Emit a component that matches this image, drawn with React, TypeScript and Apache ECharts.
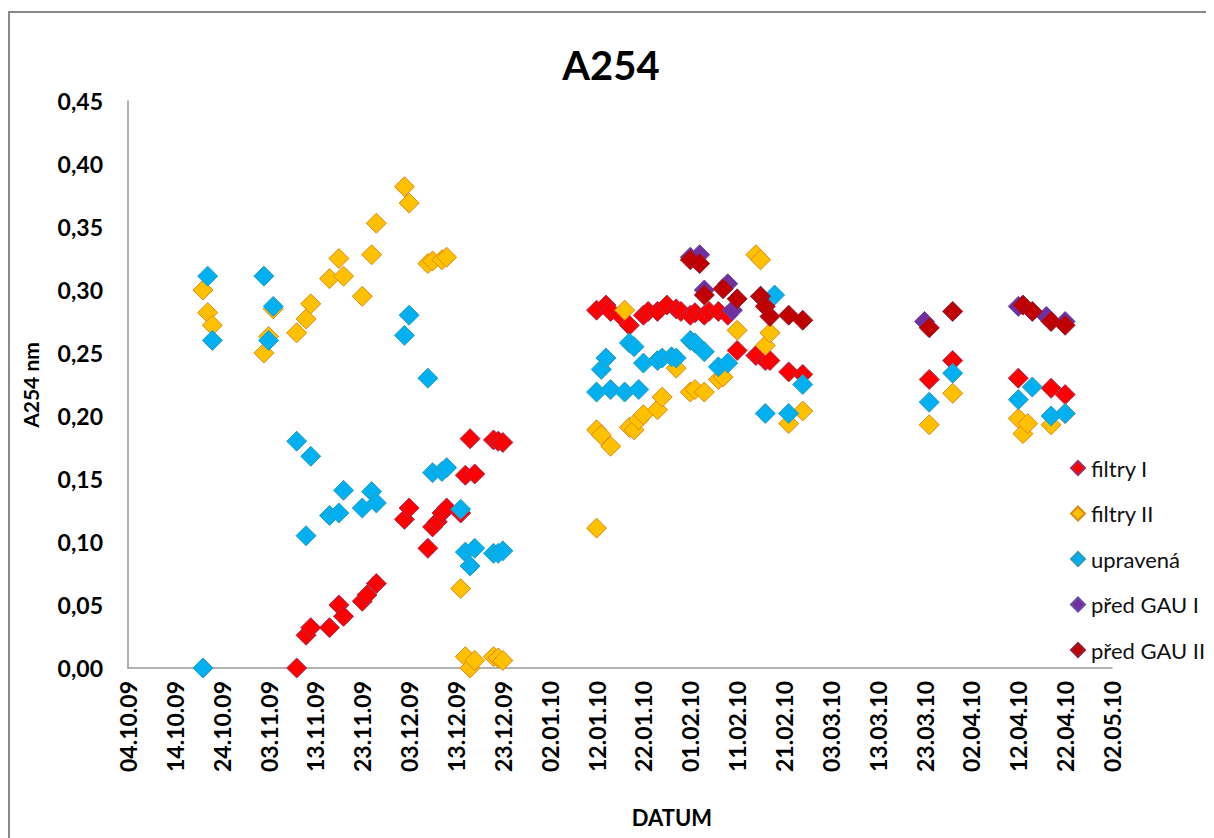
import React, { useEffect, useRef } from "react";
import * as echarts from "echarts";

const xTickLabels = [
  "04.10.09", "14.10.09", "24.10.09", "03.11.09", "13.11.09", "23.11.09",
  "03.12.09", "13.12.09", "23.12.09", "02.01.10", "12.01.10", "22.01.10",
  "01.02.10", "11.02.10", "21.02.10", "03.03.10", "13.03.10", "23.03.10",
  "02.04.10", "12.04.10", "22.04.10", "02.05.10",
];

const seriesNames = ["filtry I", "filtry II", "upravená", "před GAU I", "před GAU II"];

const filtryIDates = [
  "09.11.09", "11.11.09", "12.11.09", "16.11.09", "18.11.09", "19.11.09", "23.11.09", "24.11.09", "26.11.09",
  "02.12.09", "03.12.09", "07.12.09", "08.12.09", "09.12.09", "10.12.09", "11.12.09", "14.12.09", "15.12.09",
  "16.12.09", "17.12.09", "21.12.09", "22.12.09", "23.12.09",
  "12.01.10", "14.01.10", "15.01.10", "17.01.10", "19.01.10", "22.01.10", "23.01.10", "25.01.10", "27.01.10",
  "29.01.10", "30.01.10", "01.02.10", "02.02.10", "04.02.10", "05.02.10", "07.02.10", "09.02.10", "11.02.10",
  "15.02.10", "17.02.10", "18.02.10", "22.02.10", "25.02.10",
  "24.03.10", "29.03.10", "12.04.10", "19.04.10", "22.04.10",
];
const filtryIValues = [
  0.000, 0.026, 0.032, 0.032, 0.050, 0.041, 0.053, 0.058, 0.067,
  0.118, 0.127, 0.095, 0.112, 0.116, 0.123, 0.127, 0.123, 0.153,
  0.182, 0.154, 0.181, 0.180, 0.179,
  0.284, 0.288, 0.283, 0.280, 0.272, 0.280, 0.283, 0.283, 0.288,
  0.285, 0.283, 0.280, 0.282, 0.280, 0.283, 0.283, 0.280, 0.252,
  0.248, 0.244, 0.244, 0.235, 0.233,
  0.229, 0.244, 0.230, 0.222, 0.217,
];

const filtryIIDates = [
  "20.10.09", "21.10.09", "22.10.09", "02.11.09", "03.11.09", "04.11.09", "09.11.09", "11.11.09", "12.11.09",
  "16.11.09", "18.11.09", "19.11.09", "23.11.09", "25.11.09", "26.11.09", "02.12.09", "03.12.09", "07.12.09",
  "08.12.09", "10.12.09", "11.12.09", "14.12.09", "15.12.09", "16.12.09", "17.12.09", "21.12.09", "22.12.09",
  "23.12.09",
  "12.01.10", "12.01.10", "13.01.10", "15.01.10", "18.01.10", "19.01.10", "20.01.10", "21.01.10", "22.01.10",
  "25.01.10", "26.01.10", "29.01.10", "01.02.10", "02.02.10", "04.02.10", "07.02.10", "08.02.10", "11.02.10",
  "15.02.10", "16.02.10", "17.02.10", "18.02.10", "22.02.10", "25.02.10",
  "24.03.10", "29.03.10", "12.04.10", "13.04.10", "14.04.10", "19.04.10", "22.04.10",
];
const filtryIIValues = [
  0.300, 0.282, 0.272, 0.250, 0.263, 0.285, 0.266, 0.277, 0.289,
  0.309, 0.325, 0.311, 0.295, 0.328, 0.353, 0.382, 0.369, 0.321,
  0.323, 0.324, 0.326, 0.063, 0.009, 0.000, 0.006, 0.009, 0.008,
  0.006,
  0.111, 0.189, 0.185, 0.176, 0.284, 0.191, 0.189, 0.197, 0.201,
  0.205, 0.215, 0.238, 0.219, 0.221, 0.219, 0.229, 0.231, 0.268,
  0.328, 0.324, 0.256, 0.266, 0.194, 0.204,
  0.193, 0.218, 0.198, 0.186, 0.194, 0.193, 0.202,
];

const upravenaDates = [
  "20.10.09", "21.10.09", "22.10.09", "02.11.09", "03.11.09", "04.11.09", "09.11.09", "11.11.09", "12.11.09",
  "16.11.09", "18.11.09", "19.11.09", "23.11.09", "25.11.09", "26.11.09", "02.12.09", "03.12.09", "07.12.09",
  "08.12.09", "10.12.09", "11.12.09", "14.12.09", "15.12.09", "16.12.09", "17.12.09", "21.12.09", "22.12.09",
  "23.12.09",
  "12.01.10", "13.01.10", "14.01.10", "15.01.10", "18.01.10", "19.01.10", "20.01.10", "21.01.10", "22.01.10",
  "25.01.10", "26.01.10", "28.01.10", "29.01.10", "01.02.10", "02.02.10", "04.02.10", "07.02.10", "09.02.10",
  "16.02.10", "17.02.10", "19.02.10", "22.02.10", "25.02.10",
  "24.03.10", "29.03.10", "12.04.10", "15.04.10", "19.04.10", "22.04.10",
];
const upravenaValues = [
  0.000, 0.311, 0.260, 0.311, 0.260, 0.287, 0.180, 0.105, 0.168,
  0.121, 0.123, 0.141, 0.127, 0.140, 0.131, 0.264, 0.280, 0.230,
  0.155, 0.156, 0.159, 0.126, 0.092, 0.081, 0.095, 0.091, 0.091,
  0.093,
  0.219, 0.237, 0.246, 0.221, 0.219, 0.258, 0.255, 0.221, 0.242,
  0.244, 0.246, 0.247, 0.246, 0.260, 0.258, 0.251, 0.239, 0.242,
  0.295, 0.202, 0.296, 0.202, 0.225,
  0.211, 0.234, 0.213, 0.223, 0.200, 0.202,
];

const predGau1Dates = [
  "01.02.10", "03.02.10", "04.02.10", "09.02.10", "10.02.10",
  "23.03.10", "12.04.10", "18.04.10", "22.04.10",
];
const predGau1Values = [
  0.326, 0.328, 0.300, 0.305, 0.284,
  0.275, 0.287, 0.279, 0.275,
];

const predGau2Dates = [
  "01.02.10", "03.02.10", "04.02.10", "08.02.10", "11.02.10", "16.02.10", "17.02.10", "18.02.10", "22.02.10",
  "25.02.10", "24.03.10", "29.03.10", "13.04.10", "15.04.10", "19.04.10", "22.04.10",
];
const predGau2Values = [
  0.324, 0.321, 0.296, 0.301, 0.293, 0.295, 0.287, 0.279, 0.280,
  0.276, 0.270, 0.283, 0.288, 0.283, 0.275, 0.272,
];

const fillColors = ["#FF0000", "#FFC000", "#00B0F0", "#7030A0", "#C00000"];
const borderColors = ["#A0305A", "#D98A1E", "#2C9DB8", "#6B4BA8", "#8E1F3C"];

const DAY_MS = 86400000;
function parseDate(s: string): number {
  const [d, m, y] = s.split(".").map(Number);
  return Date.UTC(2000 + y, m - 1, d);
}
const ORIGIN = parseDate(xTickLabels[0]);
const toDay = (s: string) => Math.round((parseDate(s) - ORIGIN) / DAY_MS);
const AXIS_MAX = toDay(xTickLabels[xTickLabels.length - 1]);
const TICK_STEP = toDay(xTickLabels[1]);

const allDates = [filtryIDates, filtryIIDates, upravenaDates, predGau1Dates, predGau2Dates];
const allValues = [filtryIValues, filtryIIValues, upravenaValues, predGau1Values, predGau2Values];

const FONT = "Lato, 'Open Sans', sans-serif";

export default function App() {
  const ref = useRef<HTMLDivElement>(null);
  useEffect(() => {
    if (!ref.current) return;
    const chart = echarts.init(ref.current, undefined, { renderer: "svg" });
    const series = seriesNames.map((name, i) => ({
      name,
      type: "scatter",
      symbol: "diamond",
      symbolSize: 20,
      itemStyle: { color: fillColors[i], borderColor: borderColors[i], borderWidth: 1, opacity: 1 },
      data: allDates[i].map((d, j) => [toDay(d), allValues[i][j]]),
    }));
    chart.setOption({
      animation: false,
      backgroundColor: "#ffffff",
      textStyle: { fontFamily: FONT },
      title: {
        text: "A254",
        left: "center",
        top: 32,
        textStyle: { fontSize: 40, fontWeight: "bold", color: "#000", fontFamily: FONT },
      },
      grid: { left: 120, right: 102, top: 93, bottom: 170, containLabel: false },
      xAxis: {
        type: "value",
        min: 0,
        max: AXIS_MAX,
        interval: TICK_STEP,
        axisLine: { show: true, onZero: false, lineStyle: { color: "#999999", width: 1.5 } },
        axisTick: { show: false },
        splitLine: { show: false },
        axisLabel: {
          rotate: 90,
          margin: 13,
          showMinLabel: true,
          showMaxLabel: true,
          fontSize: 23,
          fontWeight: "bold",
          color: "#000",
          fontFamily: FONT,
          formatter: (v: number) => xTickLabels[Math.round(v / TICK_STEP)] ?? "",
        },
      },
      yAxis: {
        type: "value",
        min: 0,
        max: 0.45,
        interval: 0.05,
        axisLine: { show: true, lineStyle: { color: "#999999", width: 1.5 } },
        axisTick: { show: false },
        splitLine: { show: false },
        axisLabel: {
          margin: 25,
          fontSize: 23,
          fontWeight: "bold",
          color: "#000",
          fontFamily: FONT,
          formatter: (v: number) => v.toFixed(2).replace(".", ","),
        },
      },
      legend: {
        orient: "vertical",
        left: 1062,
        top: 449,
        padding: 0,
        icon: "diamond",
        itemWidth: 14,
        itemHeight: 14,
        itemGap: 23.5,
        data: seriesNames,
        textStyle: { fontSize: 22, lineHeight: 22, color: "#111", fontFamily: FONT, padding: [0, 0, 0, 1] },
      },
      graphic: [
        {
          type: "rect",
          shape: { x: 1, y: 4, width: 1210, height: 840 },
          style: { fill: "none", stroke: "#888888", lineWidth: 2 },
          silent: true,
        },
        {
          type: "text",
          x: 22,
          y: 377,
          rotation: Math.PI / 2,
          style: {
            text: "A254 nm",
            fontSize: 21,
            fontWeight: "bold",
            fontFamily: FONT,
            fill: "#000",
            textAlign: "center",
            textVerticalAlign: "middle",
          },
        },
        {
          type: "text",
          x: 664,
          y: 809,
          style: {
            text: "DATUM",
            fontSize: 22,
            fontWeight: "bold",
            fontFamily: FONT,
            fill: "#000",
            textAlign: "center",
            textVerticalAlign: "middle",
          },
        },
      ],
      series,
    });
    return () => chart.dispose();
  }, []);
  return <div ref={ref} style={{ width: 1206, height: 830 }} />;
}
